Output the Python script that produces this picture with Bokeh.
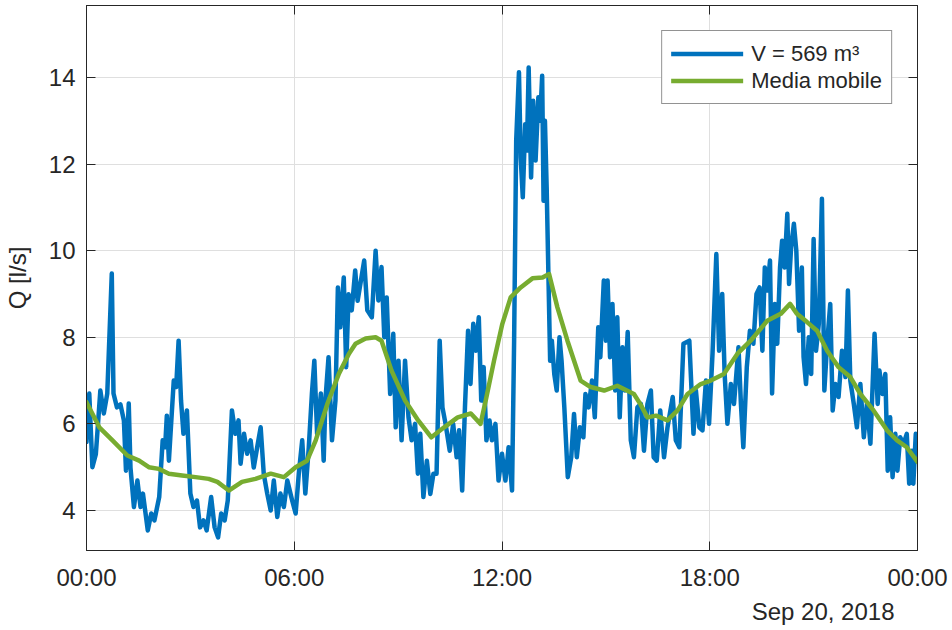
from bokeh.plotting import figure
from bokeh.models import (FixedTicker, LinearAxis, Legend, LegendItem, Title,
                          Range1d, ColumnDataSource)
from bokeh.embed import file_html
from bokeh.resources import INLINE

# ---------------- data ----------------
flow_hours = [
    0.00, 0.08, 0.17, 0.27, 0.40, 0.50, 0.60, 0.73, 0.78, 0.88, 0.98, 1.08, 1.14, 1.22, 1.27,
    1.37, 1.47, 1.56, 1.63, 1.77, 1.87, 1.96, 2.10, 2.20, 2.27, 2.32, 2.38, 2.52, 2.59, 2.66,
    2.73, 2.80, 2.90, 3.00, 3.09, 3.19, 3.28, 3.38, 3.47, 3.60, 3.70, 3.80, 3.89, 3.99, 4.08,
    4.20, 4.30, 4.39, 4.45, 4.55, 4.64, 4.74, 4.83, 4.93, 5.03, 5.12, 5.22, 5.32, 5.41, 5.51,
    5.60, 5.70, 5.80, 5.94, 6.04, 6.13, 6.23, 6.32, 6.42, 6.51, 6.58, 6.66, 6.77, 6.85, 6.90,
    6.99, 7.09, 7.19, 7.26, 7.33, 7.43, 7.50, 7.57, 7.66, 7.76, 7.83, 7.91, 8.02, 8.11, 8.24,
    8.35, 8.43, 8.52, 8.60, 8.67, 8.77, 8.86, 8.93, 9.01, 9.10, 9.20, 9.30, 9.39, 9.49, 9.57,
    9.64, 9.73, 9.83, 9.93, 10.02, 10.11, 10.20, 10.28, 10.37, 10.49, 10.59, 10.69, 10.76, 10.85, 10.93,
    11.02, 11.09, 11.17, 11.24, 11.33, 11.40, 11.47, 11.55, 11.64, 11.71, 11.81, 11.90, 12.00, 12.10, 12.19,
    12.29, 12.35, 12.41, 12.49, 12.54, 12.60, 12.67, 12.72, 12.77, 12.84, 12.90, 12.97, 13.05, 13.10, 13.16,
    13.20, 13.24, 13.29, 13.34, 13.39, 13.44, 13.51, 13.58, 13.66, 13.72, 13.80, 13.90, 14.00, 14.08, 14.16,
    14.25, 14.35, 14.41, 14.50, 14.60, 14.68, 14.78, 14.84, 14.94, 15.00, 15.05, 15.12, 15.19, 15.27, 15.33,
    15.40, 15.48, 15.55, 15.63, 15.72, 15.81, 15.91, 16.01, 16.10, 16.20, 16.30, 16.38, 16.47, 16.57, 16.68,
    16.78, 16.93, 17.02, 17.12, 17.24, 17.41, 17.53, 17.60, 17.70, 17.79, 17.89, 17.98, 18.08, 18.19, 18.27,
    18.36, 18.43, 18.51, 18.61, 18.70, 18.83, 18.90, 18.97, 19.07, 19.16, 19.26, 19.35, 19.44, 19.52, 19.59,
    19.66, 19.74, 19.80, 19.88, 19.95, 20.03, 20.09, 20.16, 20.24, 20.29, 20.35, 20.43, 20.50, 20.58, 20.66,
    20.71, 20.78, 20.86, 20.93, 21.00, 21.07, 21.15, 21.24, 21.31, 21.39, 21.48, 21.55, 21.63, 21.72, 21.82,
    21.92, 21.99, 22.06, 22.16, 22.25, 22.35, 22.45, 22.54, 22.64, 22.76, 22.85, 22.90, 22.99, 23.07, 23.14,
    23.21, 23.28, 23.36, 23.42, 23.50, 23.60, 23.69, 23.76, 23.84, 23.88, 23.95, 24.00,
]
flow_values = [
    5.58, 6.70, 5.00, 5.30, 6.77, 6.24, 6.70, 9.47, 6.70, 6.38, 6.45, 6.08, 4.92, 6.47, 4.99,
    4.08, 4.69, 4.08, 4.39, 3.54, 3.93, 3.77, 4.31, 5.62, 5.46, 6.19, 5.15, 7.00, 6.85, 7.92,
    6.54, 5.77, 6.31, 4.39, 4.08, 4.23, 3.61, 3.77, 3.54, 4.31, 3.61, 3.38, 3.93, 3.77, 4.23,
    6.31, 5.77, 6.08, 5.08, 5.77, 5.31, 5.62, 4.99, 5.46, 5.92, 4.84, 4.39, 4.00, 4.69, 3.85,
    4.39, 4.08, 4.69, 4.23, 3.93, 4.84, 5.62, 4.39, 5.46, 6.70, 7.46, 5.77, 6.70, 5.15, 6.54,
    7.54, 5.62, 6.54, 9.15, 8.23, 9.38, 7.31, 8.99, 8.62, 9.54, 8.84, 9.23, 9.77, 8.62, 8.46,
    10.00, 8.85, 9.62, 8.00, 8.92, 6.69, 8.08, 5.92, 7.46, 5.62, 7.46, 6.15, 5.62, 6.00, 4.85,
    5.77, 4.31, 5.15, 4.38, 4.85, 4.85, 7.92, 6.38, 6.00, 5.38, 6.00, 5.23, 5.85, 4.46, 6.38,
    8.15, 6.92, 8.31, 7.69, 8.46, 6.54, 7.31, 5.62, 6.08, 5.62, 6.00, 4.69, 5.31, 4.69, 5.46,
    4.46, 7.92, 12.54, 14.12, 12.15, 11.23, 12.92, 12.31, 14.23, 11.69, 13.46, 12.08, 13.54, 13.00, 14.04,
    11.15, 13.00, 11.46, 9.46, 7.46, 7.92, 7.15, 6.77, 8.00, 7.46, 6.38, 4.77, 5.23, 6.23, 5.23,
    5.92, 5.69, 6.69, 6.38, 7.00, 6.15, 8.23, 7.54, 9.31, 7.92, 9.31, 7.54, 8.77, 6.77, 8.46,
    6.15, 7.77, 6.77, 8.12, 5.62, 5.23, 6.38, 6.46, 5.38, 6.46, 6.77, 5.23, 5.15, 6.31, 5.23,
    5.92, 6.62, 5.62, 5.46, 7.85, 7.92, 5.77, 6.77, 5.92, 5.85, 7.00, 6.00, 7.62, 9.92, 7.69,
    9.00, 7.15, 6.00, 6.92, 6.46, 7.77, 6.46, 5.46, 7.31, 8.15, 7.85, 9.00, 9.15, 7.69, 9.61,
    9.08, 9.77, 6.70, 8.77, 7.85, 9.61, 10.23, 9.61, 10.85, 9.23, 10.08, 10.62, 10.00, 8.15, 9.61,
    7.54, 6.92, 8.00, 7.15, 10.27, 7.69, 8.31, 11.20, 6.77, 7.85, 8.77, 6.31, 6.92, 6.62, 7.69,
    7.08, 9.08, 7.00, 6.46, 5.92, 6.92, 5.69, 6.46, 5.54, 8.08, 6.46, 7.23, 6.69, 7.15, 4.92,
    6.15, 4.77, 5.77, 4.92, 5.69, 5.54, 5.77, 4.62, 5.38, 4.62, 5.77, 5.60,
]

mean_hours = [
    0.00, 0.37, 0.75, 1.18, 1.52, 1.80, 2.09, 2.38, 2.76, 3.15, 3.53, 3.78, 4.11, 4.49, 4.88,
    5.32, 5.70, 6.04, 6.37, 6.62, 6.96, 7.29, 7.58, 7.77, 8.06, 8.35, 8.52, 8.81, 9.20, 9.58,
    9.96, 10.33, 10.72, 11.10, 11.38, 11.53, 11.77, 12.01, 12.25, 12.54, 12.88, 13.17, 13.36, 13.60, 13.89,
    14.27, 14.56, 14.95, 15.33, 15.81, 16.00, 16.20, 16.45, 16.78, 17.07, 17.36, 17.74, 18.03, 18.41, 18.80,
    19.18, 19.66, 20.05, 20.32, 20.52, 20.81, 21.10, 21.39, 21.72, 22.06, 22.35, 22.73, 23.12, 23.41, 23.69,
    24.00,
]
mean_values = [
    6.50, 5.92, 5.62, 5.27, 5.15, 5.00, 4.96, 4.85, 4.81, 4.77, 4.73, 4.66, 4.46, 4.66, 4.73,
    4.85, 4.77, 5.00, 5.15, 5.62, 6.47, 7.16, 7.62, 7.85, 7.97, 8.00, 7.92, 7.23, 6.54, 6.08,
    5.69, 5.92, 6.15, 6.24, 6.00, 6.54, 7.46, 8.31, 8.92, 9.15, 9.36, 9.38, 9.46, 8.69, 7.92,
    7.00, 6.85, 6.77, 6.88, 6.69, 6.45, 6.15, 6.19, 6.08, 6.31, 6.69, 6.92, 7.00, 7.15, 7.62,
    7.92, 8.38, 8.54, 8.77, 8.54, 8.35, 8.15, 7.69, 7.31, 7.08, 6.69, 6.31, 5.85, 5.62, 5.46,
    5.12,
]

x_tick_values = [0, 6, 12, 18, 24]
x_tick_labels = ["00:00", "06:00", "12:00", "18:00", "00:00"]
y_tick_values = [4, 6, 8, 10, 12, 14]
series_labels = ["V = 569 m³", "Media mobile"]
date_label = "Sep 20, 2018"
y_label = "Q [l/s]"

# ---------------- styling ----------------
FONT = "Liberation Sans"
TXT = "#262626"
BLUE = "#0072BD"
GREEN = "#77AC30"
GRID = "#dfdfdf"

x_start, x_end = 0, 24
y_start, y_end = 3.076, 15.66

p = figure(width=950, height=628, output_backend="svg", toolbar_location=None,
           x_range=Range1d(x_start, x_end), y_range=Range1d(y_start, y_end),
           min_border_left=84, min_border_right=33, min_border_top=5,
           min_border_bottom=78)
p.background_fill_color = "white"
p.border_fill_color = "white"
p.outline_line_color = TXT
p.outline_line_width = 1

xt = FixedTicker(ticks=x_tick_values)
yt = FixedTicker(ticks=y_tick_values)

def style_axis(ax, show_labels=True):
    ax.axis_line_color = TXT
    ax.axis_line_width = 1
    ax.major_tick_line_color = TXT
    ax.major_tick_line_width = 1
    ax.major_tick_in = 9
    ax.major_tick_out = 0
    ax.minor_tick_line_color = None
    ax.major_label_text_font = FONT
    ax.major_label_text_color = TXT
    if show_labels:
        ax.major_label_text_font_size = "24px"
    else:
        ax.major_label_text_font_size = "0px"
        ax.major_label_standoff = 0

xa = p.xaxis[0]
xa.ticker = xt
xa.major_label_overrides = {v: s for v, s in zip(x_tick_values, x_tick_labels)}
style_axis(xa)
xa.major_label_standoff = 13

ya = p.yaxis[0]
ya.ticker = yt
style_axis(ya)
ya.major_label_standoff = 11
ya.axis_label = y_label
ya.axis_label_text_font = FONT
ya.axis_label_text_font_size = "24px"
ya.axis_label_text_font_style = "normal"
ya.axis_label_text_color = TXT
ya.axis_label_standoff = 15

top_ax = LinearAxis(ticker=xt)
style_axis(top_ax, show_labels=False)
top_ax.major_label_overrides = {v: "" for v in x_tick_values}
p.add_layout(top_ax, "above")

right_ax = LinearAxis(ticker=yt)
style_axis(right_ax, show_labels=False)
right_ax.major_label_overrides = {v: "" for v in y_tick_values}
p.add_layout(right_ax, "right")

p.xgrid.ticker = xt
p.ygrid.ticker = yt
p.xgrid.grid_line_color = GRID
p.ygrid.grid_line_color = GRID
p.xgrid.grid_line_width = 1
p.ygrid.grid_line_width = 1

src_flow = ColumnDataSource(dict(h=flow_hours, q=flow_values))
src_mean = ColumnDataSource(dict(h=mean_hours, q=mean_values))

r_flow = p.line("h", "q", source=src_flow, line_color=BLUE, line_width=4.5,
                line_join="round", line_cap="round")
r_mean = p.line("h", "q", source=src_mean, line_color=GREEN, line_width=4.5,
                line_join="round", line_cap="round")

legend = Legend(items=[LegendItem(label=series_labels[0], renderers=[r_flow]),
                       LegendItem(label=series_labels[1], renderers=[r_mean])],
                location="top_right", margin=25,
                padding=9, spacing=0, glyph_width=72, glyph_height=27,
                label_height=27, label_standoff=8,
                label_text_font=FONT, label_text_font_size="22px",
                label_text_color=TXT,
                border_line_color=TXT, border_line_width=1,
                background_fill_color="white", background_fill_alpha=1)
p.add_layout(legend, "center")

date_title = Title(text=date_label, align="right", offset=23, standoff=4,
                   text_font=FONT, text_font_size="24px",
                   text_font_style="normal", text_color=TXT)
p.add_layout(date_title, "below")

open("out.html", "w").write(file_html(p, INLINE))
